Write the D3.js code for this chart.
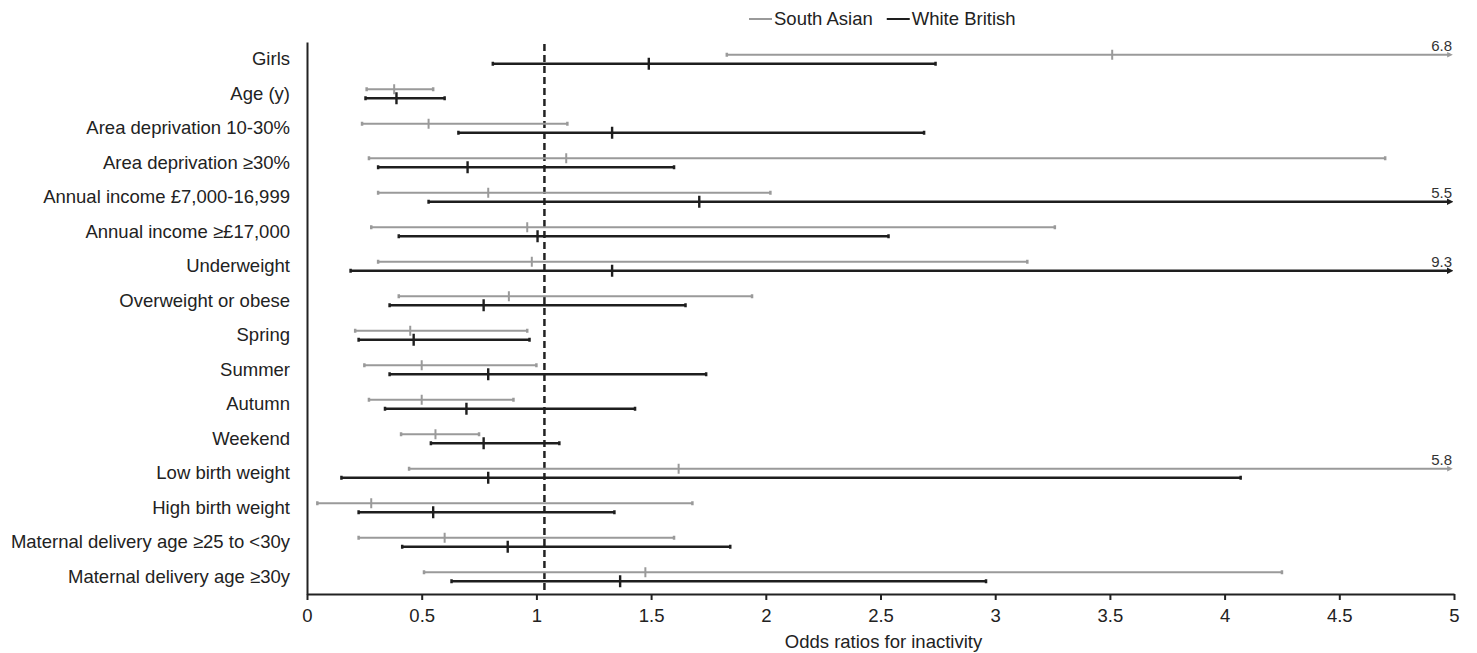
<!DOCTYPE html>
<html>
<head>
<meta charset="utf-8">
<script src="https://cdn.jsdelivr.net/npm/d3@7"></script>
<style>
  body { margin: 0; background: #fff; }
  text { font-family: "Liberation Sans", Arial, sans-serif; fill: #222; }
</style>
</head>
<body>
<div id="chart-area"></div>
<script>
// Categories and odds ratios
let categories = ["Girls", "Age (y)", "Area deprivation 10-30%", "Area deprivation \u226530%",
  "Annual income \u00a37,000-16,999", "Annual income \u2265\u00a317,000", "Underweight",
  "Overweight or obese", "Spring", "Summer", "Autumn", "Weekend", "Low birth weight",
  "High birth weight", "Maternal delivery age \u226525 to <30y", "Maternal delivery age \u226530y"]

let saOR   = [3.51, 0.38, 0.53, 1.13, 0.79, 0.96, 0.98, 0.88, 0.45, 0.50, 0.50, 0.56, 1.62, 0.28, 0.60, 1.475]
let saLow  = [1.83, 0.26, 0.24, 0.27, 0.31, 0.28, 0.31, 0.40, 0.21, 0.25, 0.27, 0.41, 0.445, 0.045, 0.225, 0.51]
let saHigh = [6.8, 0.55, 1.135, 4.70, 2.02, 3.26, 3.14, 1.94, 0.96, 1.00, 0.90, 0.75, 5.8, 1.68, 1.60, 4.25]

let wbOR   = [1.49, 0.39, 1.33, 0.70, 1.71, 1.005, 1.33, 0.77, 0.465, 0.79, 0.695, 0.77, 0.79, 0.55, 0.875, 1.365]
let wbLow  = [0.81, 0.255, 0.66, 0.31, 0.53, 0.40, 0.19, 0.36, 0.225, 0.36, 0.34, 0.54, 0.15, 0.225, 0.415, 0.63]
let wbHigh = [2.74, 0.60, 2.69, 1.60, 5.5, 2.535, 9.3, 1.65, 0.97, 1.74, 1.43, 1.10, 4.07, 1.34, 1.845, 2.96]

let xTicks = [0, 0.5, 1, 1.5, 2, 2.5, 3, 3.5, 4, 4.5, 5]
let xMax = 5
let refValue = 1.035   // dashed reference line as drawn in the figure

let margin = { left: 307, right: 23, top: 42, bottom: 59 }
let width = 1477 - margin.left - margin.right
let height = 653 - margin.top - margin.bottom

let svg = d3.select("#chart-area").append('svg')
  .attr('width', 1477)
  .attr('height', 653)

let g = svg.append('g')
  .attr('transform', 'translate(' + margin.left + ", " + margin.top + ')')

let x = d3.scaleLinear().domain([0, xMax]).range([0, width])
let y = d3.scaleBand().domain(categories).range([0, height])

let series = [
  { name: 'South Asian', color: '#9a9a9a', width: 2, off: -4.5, tick: 10, or: saOR, lo: saLow, hi: saHigh },
  { name: 'White British', color: '#1e1e1e', width: 2.4, off: 4.5, tick: 12, or: wbOR, lo: wbLow, hi: wbHigh }
]

// Arrow markers for truncated intervals
let defs = svg.append('defs')
series.forEach((s, i) => {
  defs.append('marker')
    .attr('id', 'arrow' + i)
    .attr('viewBox', '0 0 10 10')
    .attr('refX', 5).attr('refY', 5)
    .attr('markerWidth', 2.8).attr('markerHeight', 2.8)
    .attr('orient', 'auto')
    .append('path')
    .attr('d', 'M0,0L10,5L0,10z')
    .attr('fill', s.color)
})

// X axis
let xAxis = g.append('g')
  .attr('transform', 'translate(0, ' + height + ')')
  .call(d3.axisBottom(x).tickValues(xTicks).tickSize(6).tickSizeOuter(0).tickPadding(9).tickFormat(d => d))
xAxis.select('.domain').attr('stroke', '#222').attr('stroke-width', 2)
xAxis.selectAll('.tick line').attr('stroke', '#222').attr('stroke-width', 2)
xAxis.selectAll('.tick text').style('font-size', '18.5px')

g.append('text')
  .attr('x', width / 2 + 3)
  .attr('y', height + 54)
  .attr('text-anchor', 'middle')
  .style('font-size', '18.5px')
  .text('Odds ratios for inactivity')

// Y axis (labels only, plus the vertical line)
let yAxis = g.append('g')
  .call(d3.axisLeft(y).tickSize(0).tickPadding(17))
yAxis.select('.domain').attr('stroke', '#222').attr('stroke-width', 2)
yAxis.selectAll('.tick text').style('font-size', '18.5px')

// Reference line
g.append('line')
  .attr('x1', x(refValue)).attr('x2', x(refValue))
  .attr('y1', 2).attr('y2', height)
  .attr('stroke', '#222')
  .attr('stroke-width', 2.5)
  .attr('stroke-dasharray', '7,4')

// Intervals
series.forEach((s, i) => {
  let rows = g.append('g').selectAll('g')
    .data(categories)
    .enter().append('g')
    .attr('transform', (c) => 'translate(0, ' + (y(c) + y.bandwidth() / 2 + s.off) + ')')

  rows.append('line')
    .attr('x1', (c, j) => x(s.lo[j]))
    .attr('x2', (c, j) => x(Math.min(s.hi[j], xMax)) - (s.hi[j] > xMax ? 4 : 0))
    .attr('stroke', s.color)
    .attr('stroke-width', s.width)
    .attr('marker-end', (c, j) => s.hi[j] > xMax ? 'url(#arrow' + i + ')' : null)

  // end caps
  rows.append('line')
    .attr('x1', (c, j) => x(s.lo[j])).attr('x2', (c, j) => x(s.lo[j]))
    .attr('y1', -2).attr('y2', 2)
    .attr('stroke', s.color).attr('stroke-width', 2.5)
  rows.filter((c, j) => s.hi[j] <= xMax).append('line')
    .attr('x1', c => x(s.hi[categories.indexOf(c)])).attr('x2', c => x(s.hi[categories.indexOf(c)]))
    .attr('y1', -2).attr('y2', 2)
    .attr('stroke', s.color).attr('stroke-width', 2.5)

  // point estimate
  rows.append('line')
    .attr('x1', (c, j) => x(s.or[j])).attr('x2', (c, j) => x(s.or[j]))
    .attr('y1', -s.tick / 2).attr('y2', s.tick / 2)
    .attr('stroke', s.color).attr('stroke-width', s.width)

  // value label for truncated upper limits
  rows.filter((c, j) => s.hi[j] > xMax).append('text')
    .attr('x', width - 2)
    .attr('y', -4)
    .attr('text-anchor', 'end')
    .style('font-size', '15px')
    .style('fill', '#333')
    .text(c => s.hi[categories.indexOf(c)])
})

// Legend
let legend = svg.append('g').attr('transform', 'translate(749, 19)')
let lx = 0
series.forEach((s) => {
  legend.append('line')
    .attr('x1', lx).attr('x2', lx + 23)
    .attr('stroke', s.color).attr('stroke-width', 2)
  let t = legend.append('text')
    .attr('x', lx + 25).attr('dy', '0.35em')
    .style('font-size', '18.5px')
    .text(s.name)
  lx += 25 + t.node().getComputedTextLength() + 14
})
</script>
</body>
</html>
